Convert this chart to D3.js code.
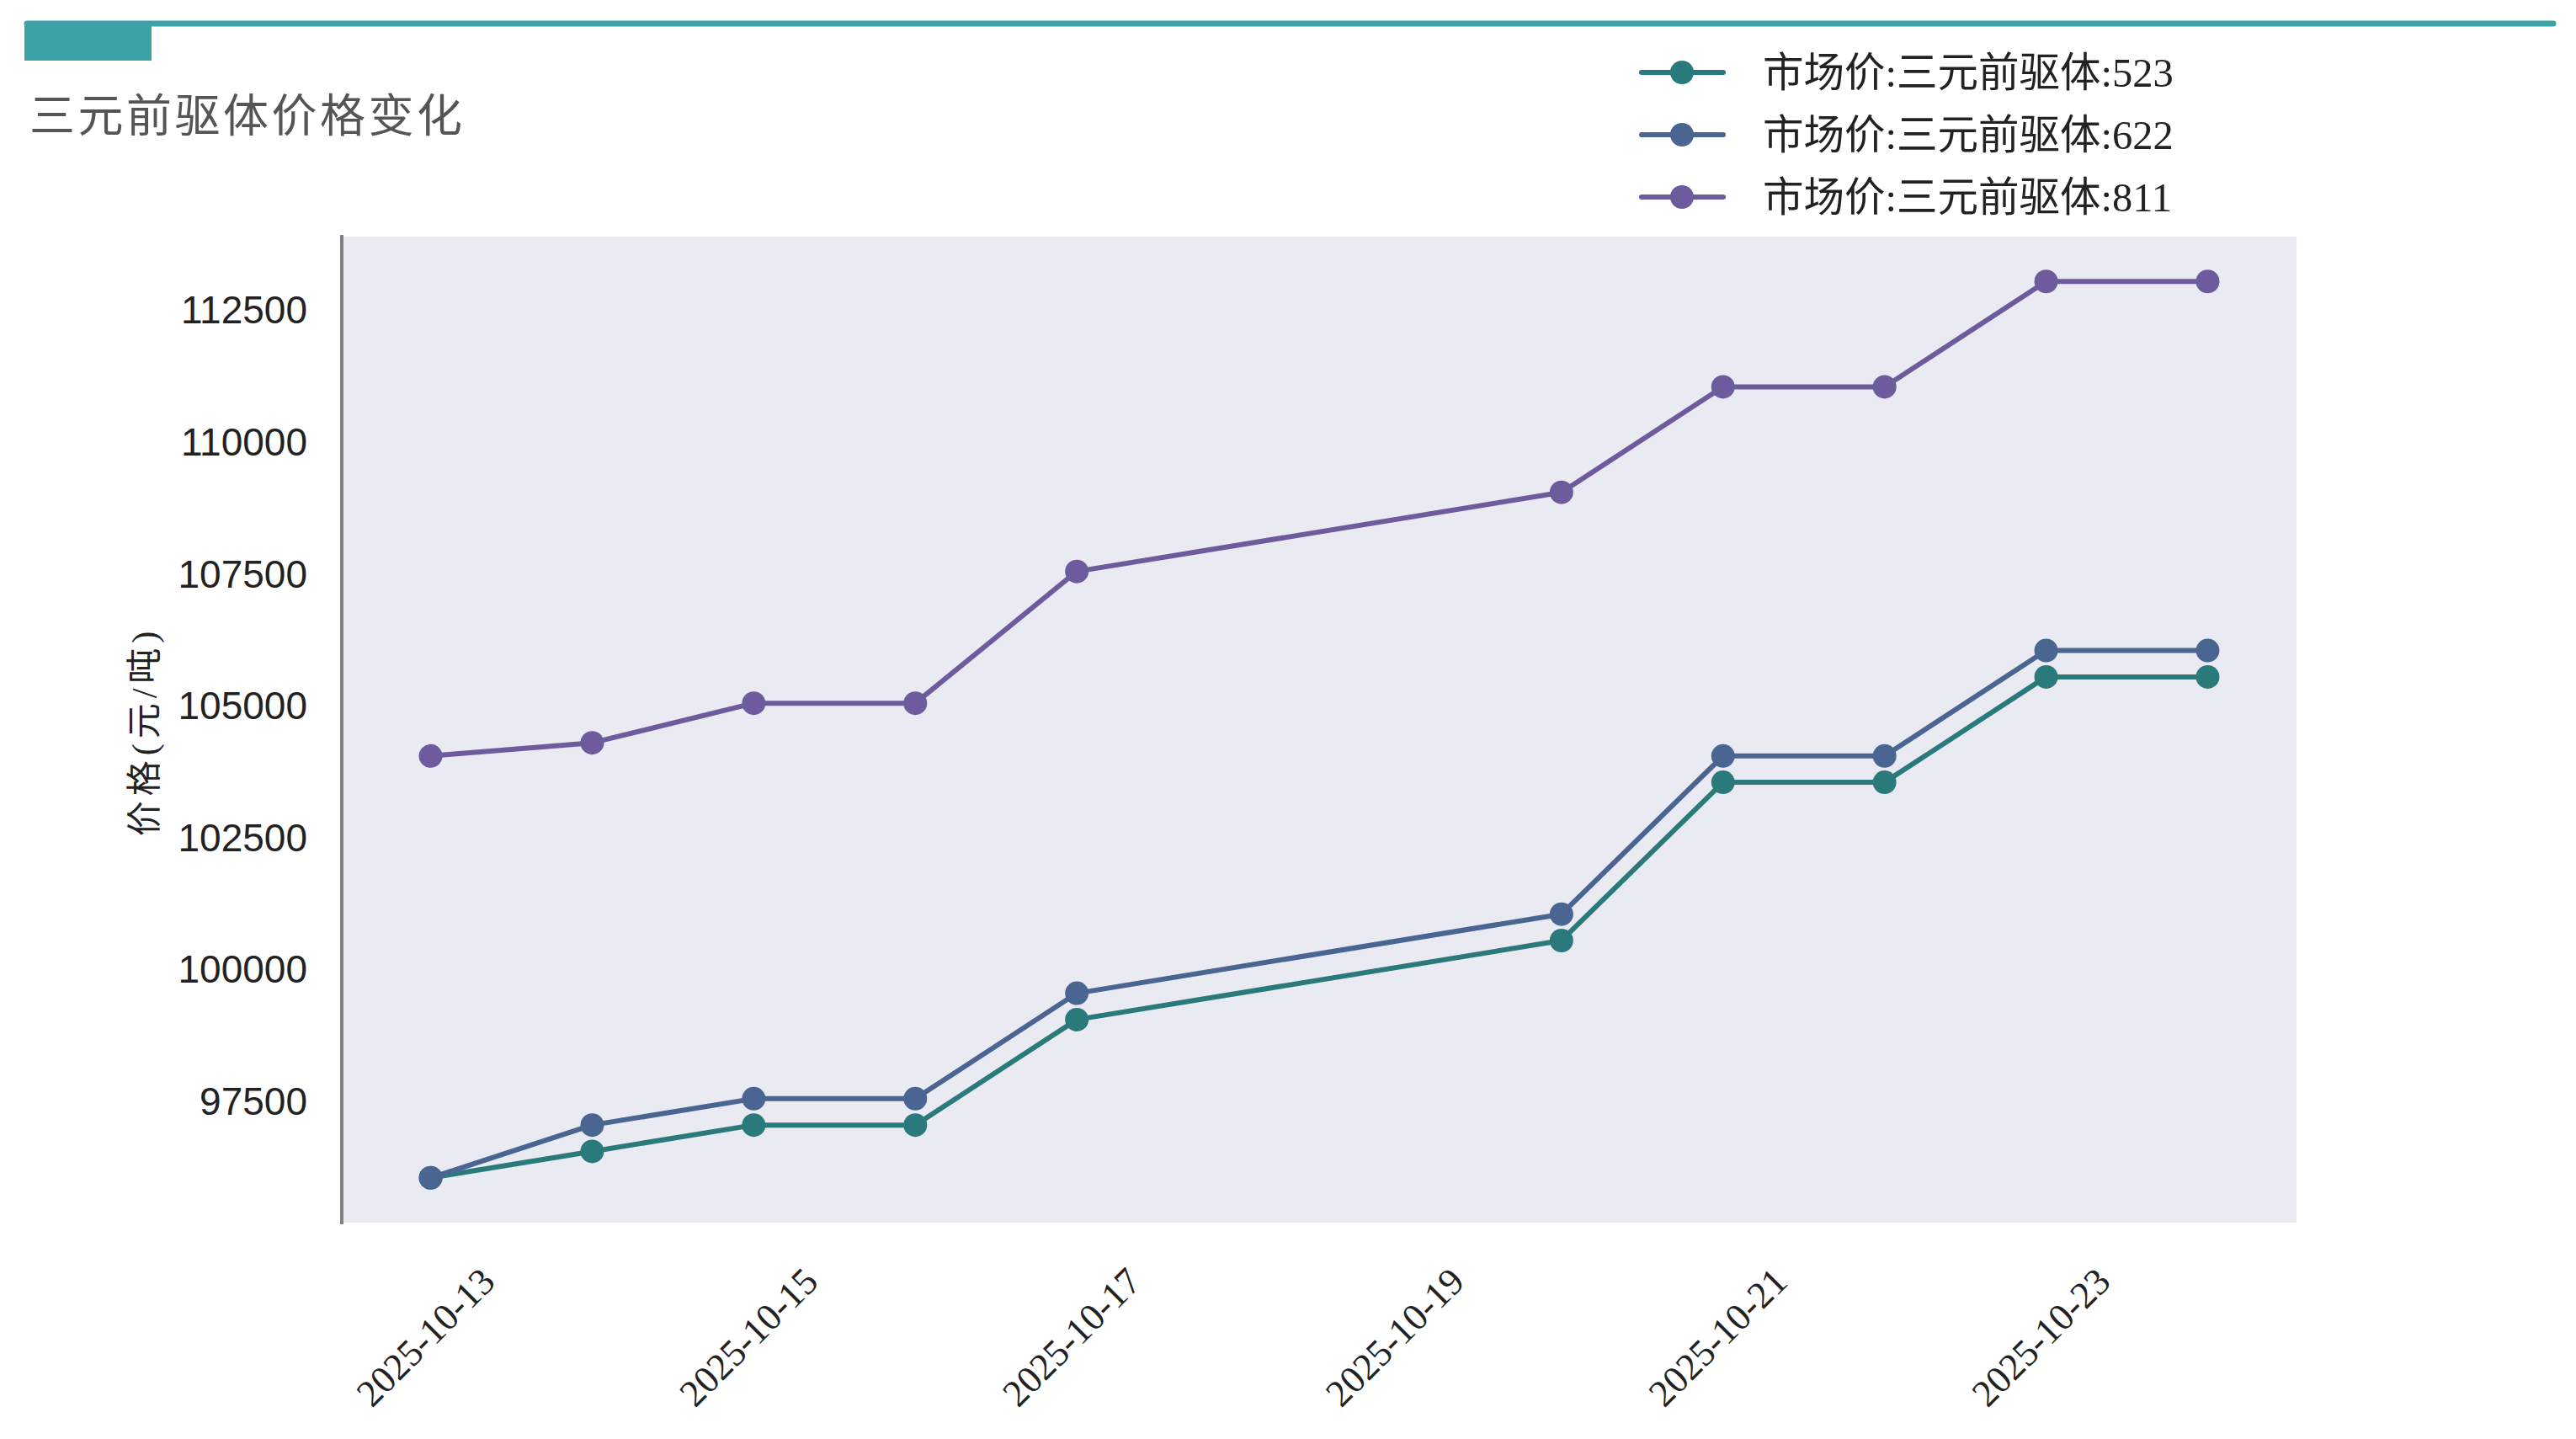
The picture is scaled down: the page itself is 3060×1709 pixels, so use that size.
<!DOCTYPE html>
<html><head><meta charset="utf-8">
<script src="https://cdn.jsdelivr.net/npm/d3@7"></script>
<style>html,body{margin:0;padding:0;background:#fff;}svg{display:block;}</style>
</head><body>
<svg id="chart" width="3060" height="1709"></svg>
<script>
const dates = ["2025-10-13","2025-10-14","2025-10-15","2025-10-16","2025-10-17","2025-10-20","2025-10-21","2025-10-22","2025-10-23","2025-10-24"];
const seriesNames = ["市场价:三元前驱体:523","市场价:三元前驱体:622","市场价:三元前驱体:811"];
const values523 = [96000,96500,97000,97000,99000,100500,103500,103500,105500,105500];
const values622 = [96000,97000,97500,97500,99500,101000,104000,104000,106000,106000];
const values811 = [104000,104250,105000,105000,107500,109000,111000,111000,113000,113000];
const colors = ["#2B7A7B","#4A6591","#6D5B9D"];
const yTicks = [97500,100000,102500,105000,107500,110000,112500];
const xTickLabels = ["2025-10-13","2025-10-15","2025-10-17","2025-10-19","2025-10-21","2025-10-23"];
const titleText = "三元前驱体价格变化";
const yLabel = "价格(元/吨)";

const parse = d3.timeParse("%Y-%m-%d");
const series = [values523, values622, values811].map((v,i)=>({name:seriesNames[i], color:colors[i], pts:v.map((y,j)=>({x:parse(dates[j]), y}))}));

const svg = d3.select("#chart");
const M = {left:406, right:2728, top:281, bottom:1452};

// header decoration
svg.append("line").attr("x1",32).attr("x2",3033).attr("y1",28).attr("y2",28)
  .attr("stroke","#3BA3A5").attr("stroke-width",7).attr("stroke-linecap","round");
svg.append("rect").attr("x",29).attr("y",28).attr("width",151).attr("height",44).attr("fill","#3BA3A5");
svg.append("text").attr("x",35).attr("y",157).attr("font-family","'Noto Sans CJK SC'")
  .attr("font-size",54).attr("fill","#555").attr("letter-spacing",3.5).text(titleText);

// scales
const allDates = dates.map(parse);
const d0 = allDates[0], d1 = allDates[allDates.length-1];
const span = d1 - d0;
const x = d3.scaleTime().domain([new Date(+d0 - span*0.05), new Date(+d1 + span*0.05)]).range([M.left, M.right]);
const ymin = 96000, ymax = 113000, yr = ymax-ymin;
const y = d3.scaleLinear().domain([ymin - yr*0.05, ymax + yr*0.05]).range([M.bottom, M.top]);

// background
svg.append("rect").attr("x",M.left).attr("y",M.top).attr("width",M.right-M.left).attr("height",M.bottom-M.top).attr("fill","#EAEAF2");

// y axis
const yAxis = svg.append("g").attr("transform",`translate(${M.left},0)`)
  .call(d3.axisLeft(y).tickValues(yTicks).tickSize(0).tickPadding(41).tickFormat(d3.format("d")));
yAxis.select(".domain").remove();
yAxis.selectAll("text").attr("font-family","'Liberation Sans', Arial, sans-serif").attr("font-size",46).attr("fill","#222").attr("dy","0.4em");
svg.append("line").attr("x1",M.left).attr("x2",M.left).attr("y1",M.top-2).attr("y2",M.bottom+2)
  .attr("stroke","#808080").attr("stroke-width",4);

// y label
svg.append("text").attr("transform",`translate(186,${(M.top+M.bottom)/2+2}) rotate(-90)`)
  .attr("text-anchor","middle").attr("font-family","'Liberation Serif','Noto Sans CJK SC'")
  .attr("font-size",42).attr("letter-spacing",6).attr("fill","#222").text(yLabel);

// x axis
const xTickDates = xTickLabels.map(parse);
const xg = svg.append("g");
xTickDates.forEach((d,i)=>{
  const t = xg.append("text").attr("font-family","'Liberation Serif', serif").attr("font-size",45).attr("fill","#222")
    .attr("text-anchor","middle").attr("dominant-baseline","central").text(xTickLabels[i]);
  const w = t.node().getComputedTextLength();
  const h = 45*0.75;
  const bh = (w + h) * Math.SQRT1_2;
  t.attr("transform",`translate(${x(d)-6},${M.bottom + 50 + bh/2}) rotate(-45)`);
});

// lines and markers
const line = d3.line().x(d=>x(d.x)).y(d=>y(d.y));
series.forEach(s=>{
  svg.append("path").datum(s.pts).attr("d",line).attr("fill","none").attr("stroke",s.color).attr("stroke-width",6).attr("stroke-linejoin","round");
  svg.append("g").selectAll("circle").data(s.pts).join("circle")
    .attr("cx",d=>x(d.x)).attr("cy",d=>y(d.y)).attr("r",14).attr("fill",s.color);
});

// legend
const legY = [86,160,234];
series.forEach((s,i)=>{
  const g = svg.append("g").attr("transform",`translate(0,${legY[i]})`);
  g.append("line").attr("x1",1950).attr("x2",2047).attr("y1",0).attr("y2",0).attr("stroke",s.color).attr("stroke-width",6).attr("stroke-linecap","round");
  g.append("circle").attr("cx",1998).attr("cy",0).attr("r",14).attr("fill",s.color);
  g.append("text").attr("x",2094).attr("y",0).attr("dominant-baseline","central")
    .attr("font-family","'Liberation Serif','Noto Sans CJK SC'").attr("font-size",48.5).attr("fill","#222").text(s.name);
});
</script>
</body></html>
